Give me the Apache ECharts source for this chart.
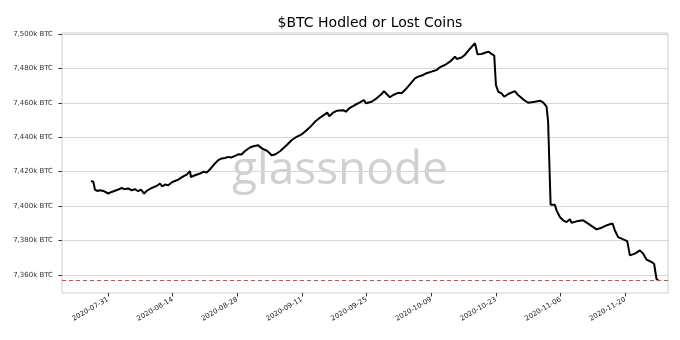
<!DOCTYPE html>
<html>
<head>
<meta charset="utf-8">
<script src="https://cdn.jsdelivr.net/npm/echarts@6/dist/echarts.min.js"></script>
<style>
  html, body { margin: 0; padding: 0; background: #fff; }
  #chart { width: 680px; height: 340px; }
</style>
</head>
<body>
<div id="chart"></div>
<script>
// Sample times (UTC) and BTC supply held/lost, in thousands of BTC
const times = [
  '2020-07-27 08:00','2020-07-27 20:00','2020-07-28 04:00','2020-07-28 16:00','2020-07-29 06:00',
  '2020-07-30 00:00','2020-07-31 01:00','2020-07-31 19:00','2020-08-02 05:00','2020-08-02 23:00',
  '2020-08-03 13:00','2020-08-04 09:00','2020-08-05 03:00','2020-08-05 20:00','2020-08-06 13:00',
  '2020-08-07 03:00','2020-08-07 20:00','2020-08-08 09:00','2020-08-09 11:00','2020-08-10 13:00',
  '2020-08-11 06:00','2020-08-11 18:00','2020-08-12 08:00','2020-08-13 01:00','2020-08-13 19:00',
  '2020-08-14 12:00','2020-08-15 05:00','2020-08-16 07:00','2020-08-17 01:00','2020-08-17 18:00',
  '2020-08-17 23:00','2020-08-18 20:00','2020-08-19 22:00','2020-08-20 15:00','2020-08-21 09:00',
  '2020-08-22 02:00','2020-08-23 04:00','2020-08-23 21:00','2020-08-24 15:00','2020-08-25 08:00',
  '2020-08-26 01:00','2020-08-26 18:00','2020-08-27 03:00','2020-08-27 21:00','2020-08-28 08:00',
  '2020-08-28 22:00','2020-08-29 16:00','2020-08-30 18:00','2020-08-31 11:00','2020-09-01 13:00',
  '2020-09-02 01:00','2020-09-02 15:00','2020-09-03 05:00','2020-09-03 17:00','2020-09-04 10:00',
  '2020-09-05 04:00','2020-09-06 06:00','2020-09-07 16:00','2020-09-08 18:00','2020-09-09 20:00',
  '2020-09-10 22:00','2020-09-11 15:00','2020-09-12 17:00','2020-09-13 19:00','2020-09-14 21:00',
  '2020-09-15 23:00','2020-09-16 11:00','2020-09-16 22:00','2020-09-17 18:00','2020-09-18 12:00',
  '2020-09-19 22:00','2020-09-20 12:00','2020-09-21 09:00','2020-09-22 11:00','2020-09-23 13:00',
  '2020-09-24 10:00','2020-09-24 20:00','2020-09-26 02:00','2020-09-27 04:00','2020-09-28 06:00',
  '2020-09-28 18:00','2020-09-29 08:00','2020-09-30 01:00','2020-09-30 18:00','2020-10-01 20:00',
  '2020-10-02 14:00','2020-10-03 07:00','2020-10-04 09:00','2020-10-05 11:00','2020-10-06 04:00',
  '2020-10-07 06:00','2020-10-07 23:00','2020-10-09 01:00','2020-10-10 04:00','2020-10-10 21:00',
  '2020-10-11 23:00','2020-10-13 01:00','2020-10-14 03:00','2020-10-14 12:00','2020-10-15 13:00',
  '2020-10-16 06:00','2020-10-17 08:00','2020-10-18 11:00','2020-10-18 19:00','2020-10-19 00:00',
  '2020-10-19 21:00','2020-10-20 23:00','2020-10-21 11:00','2020-10-22 01:00','2020-10-22 15:00',
  '2020-10-23 00:00','2020-10-23 12:00','2020-10-24 05:00','2020-10-24 19:00','2020-10-25 16:00',
  '2020-10-27 02:00','2020-10-27 19:00','2020-10-28 21:00','2020-10-29 23:00','2020-10-31 10:00',
  '2020-11-01 12:00','2020-11-02 05:00','2020-11-02 23:00','2020-11-03 07:00','2020-11-03 16:00',
  '2020-11-03 20:00','2020-11-04 18:00','2020-11-05 03:00','2020-11-05 20:00','2020-11-06 13:00',
  '2020-11-07 07:00','2020-11-08 00:00','2020-11-08 09:00','2020-11-09 11:00','2020-11-10 21:00',
  '2020-11-11 23:00','2020-11-13 19:00','2020-11-14 21:00','2020-11-15 23:00','2020-11-17 06:00',
  '2020-11-17 18:00','2020-11-18 11:00','2020-11-20 10:00','2020-11-21 00:00','2020-11-22 02:00',
  '2020-11-23 04:00','2020-11-23 21:00','2020-11-24 14:00','2020-11-25 17:00','2020-11-26 06:00',
  '2020-11-26 18:00','2020-11-27 03:00'
];

const held = [
  7414.6, 7414.0, 7409.6, 7408.8, 7409.2,
  7408.8, 7407.3, 7408.2, 7409.6, 7410.5,
  7409.8, 7410.2, 7409.2, 7409.8, 7408.6,
  7409.6, 7407.3, 7408.8, 7410.5, 7411.7,
  7413.1, 7411.5, 7412.5, 7412.1, 7413.7,
  7414.6, 7415.4, 7417.3, 7418.3, 7420.3,
  7416.9, 7417.9, 7418.9, 7419.9, 7419.5,
  7421.4, 7424.8, 7426.7, 7427.7, 7428.0,
  7428.6, 7428.3, 7429.0, 7429.6, 7430.2,
  7430.0, 7432.0, 7434.1, 7434.8, 7435.4,
  7434.1, 7433.1, 7432.5, 7431.5, 7429.6,
  7430.0, 7431.9, 7435.4, 7438.3, 7440.3,
  7441.7, 7443.2, 7445.8, 7449.0, 7451.4,
  7453.3, 7454.5, 7452.3, 7454.3, 7455.4,
  7455.8, 7454.9, 7457.2, 7458.8, 7460.3,
  7461.7, 7459.8, 7460.7, 7462.7, 7465.2,
  7466.9, 7465.2, 7463.3, 7464.6, 7465.9,
  7465.6, 7467.5, 7470.8, 7474.3, 7475.3,
  7476.3, 7477.3, 7478.2, 7479.2, 7480.8,
  7482.1, 7484.0, 7486.9, 7485.6, 7486.4,
  7487.9, 7491.4, 7494.8, 7495.7, 7488.3,
  7488.5, 7489.5, 7489.8, 7488.5, 7487.5,
  7470.4, 7466.5, 7465.6, 7463.6, 7465.2,
  7466.9, 7464.6, 7462.1, 7460.1, 7460.7,
  7461.3, 7460.3, 7457.8, 7449.0, 7449.0,
  7400.8, 7400.8, 7397.5, 7393.6, 7391.7,
  7390.7, 7392.3, 7390.3, 7391.1, 7391.7,
  7389.8, 7386.4, 7387.4, 7388.8, 7389.8,
  7385.8, 7381.9, 7379.6, 7371.3, 7372.3,
  7374.2, 7372.3, 7368.9, 7367.4, 7366.4,
  7357.7, 7356.7
];

// Axis ticks
const xTickDates = ['2020-07-31','2020-08-14','2020-08-28','2020-09-11','2020-09-25',
                    '2020-10-09','2020-10-23','2020-11-06','2020-11-20'];
const yTicks = [7360, 7380, 7400, 7420, 7440, 7460, 7480, 7500];

// Axis extents
const xStart = '2020-07-21 01:00';
const xEnd = '2020-11-29 06:00';
const yMin = 7349.4;
const yMax = 7500.7;

function toMs(s) {
  const iso = s.length > 10 ? s.replace(' ', 'T') + ':00Z' : s + 'T00:00:00Z';
  return Date.parse(iso);
}
function pad(n) { return n < 10 ? '0' + n : '' + n; }
function fmtDate(ms) {
  const d = new Date(ms);
  return d.getUTCFullYear() + '-' + pad(d.getUTCMonth() + 1) + '-' + pad(d.getUTCDate());
}
function fmtK(v) {
  const n = Math.round(v);
  return n.toString().replace(/\B(?=(\d{3})+(?!\d))/g, ',') + 'k BTC';
}

const seriesData = times.map((t, i) => [toMs(t), held[i]]);
const xTickMs = xTickDates.map(toMs);
const lastHeld = held[held.length - 1];

const chart = echarts.init(document.getElementById('chart'), null, { renderer: 'canvas' });

chart.setOption({
  animation: false,
  backgroundColor: '#ffffff',
  textStyle: { fontFamily: 'DejaVu Sans' },
  title: {
    text: '$BTC Hodled or Lost Coins',
    left: 365,
    textAlign: 'center',
    top: 11,
    textStyle: { fontFamily: 'DejaVu Sans', fontSize: 14, fontWeight: 'normal', color: '#000' }
  },
  graphic: [{
    type: 'text',
    x: 340,
    y: 171,
    z: 0,
    silent: true,
    style: {
      text: 'glassnode',
      fontFamily: 'Open Sans',
      fontSize: 46,
      fill: '#d0d0d0',
      align: 'center',
      verticalAlign: 'middle'
    }
  }],
  grid: {
    left: 62, right: 12, top: 33, bottom: 47,
    containLabel: false,
    outerBoundsMode: 'none',
    show: true,
    borderColor: '#cfcfcf',
    borderWidth: 1
  },
  xAxis: {
    type: 'value',
    min: toMs(xStart),
    max: toMs(xEnd),
    axisLine: { show: false },
    splitLine: { show: false },
    axisTick: { show: true, customValues: xTickMs, length: 3.5, lineStyle: { color: '#333', width: 1 } },
    axisLabel: {
      customValues: xTickMs,
      rotate: 30,
      margin: 6,
      fontSize: 7,
      color: '#222',
      fontFamily: 'DejaVu Sans',
      formatter: v => fmtDate(v)
    }
  },
  yAxis: {
    type: 'value',
    min: yMin,
    max: yMax,
    axisLine: { show: false },
    axisTick: { show: true, customValues: yTicks, length: 3.5, lineStyle: { color: '#333', width: 1 } },
    splitLine: { show: true, lineStyle: { color: '#d6d6d6', width: 1 } },
    axisLabel: {
      customValues: yTicks,
      margin: 9,
      fontSize: 7,
      color: '#333',
      fontFamily: 'DejaVu Sans',
      formatter: v => fmtK(v)
    }
  },
  series: [{
    type: 'line',
    data: seriesData,
    showSymbol: false,
    symbol: 'none',
    z: 3,
    lineStyle: { color: '#000', width: 2 },
    markLine: {
      silent: true,
      symbol: ['none', 'none'],
      label: { show: false },
      lineStyle: { color: '#e0455a', type: [4, 3], width: 1 },
      data: [{ yAxis: lastHeld }]
    }
  }]
});
</script>
</body>
</html>
